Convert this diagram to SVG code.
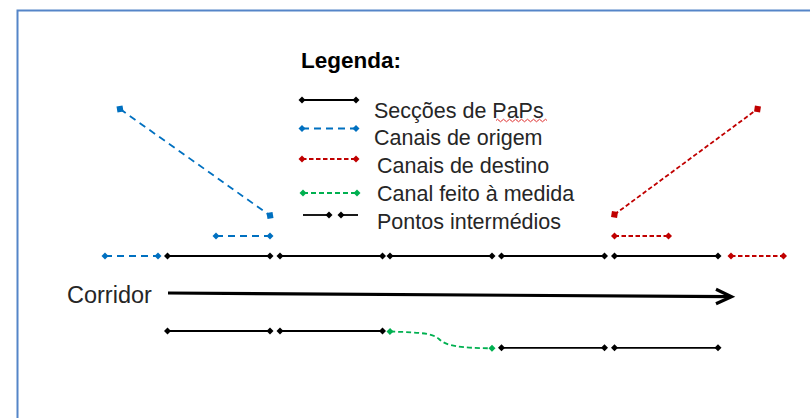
<svg xmlns="http://www.w3.org/2000/svg" width="810" height="418" viewBox="0 0 810 418">
<defs>
<marker id="dk" markerUnits="userSpaceOnUse" markerWidth="10" markerHeight="10" viewBox="-5 -5 10 10" orient="auto"><path d="M-3.5,0 L0,-3.5 L3.5,0 L0,3.5 Z" fill="#000"/></marker>
<marker id="db" markerUnits="userSpaceOnUse" markerWidth="10" markerHeight="10" viewBox="-5 -5 10 10" orient="auto"><path d="M-3.5,0 L0,-3.5 L3.5,0 L0,3.5 Z" fill="#0070C0"/></marker>
<marker id="dr" markerUnits="userSpaceOnUse" markerWidth="10" markerHeight="10" viewBox="-5 -5 10 10" orient="auto"><path d="M-3.5,0 L0,-3.5 L3.5,0 L0,3.5 Z" fill="#C00000"/></marker>
<marker id="dg" markerUnits="userSpaceOnUse" markerWidth="10" markerHeight="10" viewBox="-5 -5 10 10" orient="auto"><path d="M-3.5,0 L0,-3.5 L3.5,0 L0,3.5 Z" fill="#00B050"/></marker>
<marker id="sb" markerUnits="userSpaceOnUse" markerWidth="12" markerHeight="12" viewBox="-6 -6 12 12" orient="auto"><path d="M-4.3,0 L0,-4.3 L4.3,0 L0,4.3 Z" fill="#0070C0"/></marker>
<marker id="sr" markerUnits="userSpaceOnUse" markerWidth="12" markerHeight="12" viewBox="-6 -6 12 12" orient="auto"><path d="M-4.3,0 L0,-4.3 L4.3,0 L0,4.3 Z" fill="#C00000"/></marker>
</defs>
<style>
.t{font-family:"Liberation Sans",Arial,sans-serif;font-size:21.5px;fill:#262626}
.h{font-family:"Liberation Sans",Arial,sans-serif;font-size:22.5px;font-weight:bold;fill:#000}
.k{stroke:#000;stroke-width:1.8;fill:none;marker-start:url(#dk);marker-end:url(#dk)}
.b{stroke:#0070C0;stroke-width:1.8;fill:none;stroke-dasharray:7 5;marker-start:url(#db);marker-end:url(#db)}
.r{stroke:#C00000;stroke-width:1.8;fill:none;stroke-dasharray:4.5 2.5;marker-start:url(#dr);marker-end:url(#dr)}
.g{stroke:#00B050;stroke-width:1.8;fill:none;stroke-dasharray:5 3;marker-start:url(#dg);marker-end:url(#dg)}
.bs{stroke:#0070C0;stroke-width:1.8;fill:none;stroke-dasharray:7 5;marker-start:url(#sb);marker-end:url(#sb)}
.rs{stroke:#C00000;stroke-width:1.8;fill:none;stroke-dasharray:4.5 2.5;marker-start:url(#sr);marker-end:url(#sr)}
</style>
<rect width="810" height="418" fill="#fff"/>
<rect id="frame" x="17.5" y="10.5" width="900" height="500" fill="none" stroke="#5585C8" stroke-width="2"/>

<g id="legend">
<text class="h" x="301" y="68">Legenda:</text>
<line class="k" x1="302" y1="100" x2="356" y2="100"/>
<line class="b" x1="302" y1="128.5" x2="356" y2="128.5"/>
<line class="r" x1="302" y1="159" x2="356" y2="159"/>
<line class="g" x1="303" y1="193" x2="357" y2="193"/>
<line x1="303" y1="215" x2="329" y2="215" stroke="#000" stroke-width="1.8" marker-end="url(#dk)"/>
<line x1="341" y1="215" x2="358" y2="215" stroke="#000" stroke-width="1.8" marker-start="url(#dk)"/>
<text class="t" x="374" y="118">Secções de PaPs</text>
<path d="M496,120.5 q1.5,-2.5 3,0 t3,0 t3,0 t3,0 t3,0 t3,0 t3,0 t3,0 t3,0 t3,0 t3,0 t3,0 t3,0 t3,0 t3,0 t3,0 t3,0" fill="none" stroke="#E03030" stroke-width="1"/>
<text class="t" x="374" y="144.5">Canais de origem</text>
<text class="t" x="377" y="172.5">Canais de destino</text>
<text class="t" x="377" y="201">Canal feito à medida</text>
<text class="t" x="377" y="229">Pontos intermédios</text>
</g>

<g id="corridor">
<text class="t" x="67" y="302.5" style="font-size:23.5px">Corridor</text>
<line x1="168" y1="293" x2="730" y2="296.7" stroke="#000" stroke-width="3.2"/>
<polyline points="716,289.3 731.5,296.7 716,303.8" fill="none" stroke="#000" stroke-width="3.2"/>
</g>

<g id="connectors">
<line class="bs" x1="120" y1="109" x2="270" y2="215.5"/>
<line class="b" x1="216" y1="236" x2="270" y2="236"/>
<line class="rs" x1="614.5" y1="214.5" x2="757.5" y2="109"/>
<line class="r" x1="614.5" y1="236" x2="668.5" y2="236"/>

<line class="b" x1="105" y1="256" x2="158" y2="256"/>
<line class="k" x1="167.5" y1="256" x2="270" y2="256"/>
<line class="k" x1="280" y1="256" x2="382.5" y2="256"/>
<line class="k" x1="390" y1="256" x2="492" y2="256"/>
<line class="k" x1="501.5" y1="256" x2="604.5" y2="256"/>
<line class="k" x1="614.5" y1="256" x2="718" y2="256"/>
<line class="r" x1="731" y1="256" x2="783.5" y2="256"/>

<line class="k" x1="167.5" y1="331" x2="270" y2="331"/>
<line class="k" x1="280" y1="331" x2="382.5" y2="331"/>
<path class="g" d="M390,331.5 C420,332.5 432,333 439,339 C446,346 460,348 492,348.3"/>
<line class="k" x1="501.5" y1="347.8" x2="604.5" y2="347.8"/>
<line class="k" x1="614.5" y1="347.8" x2="718" y2="347.8"/>
</g>
</svg>
